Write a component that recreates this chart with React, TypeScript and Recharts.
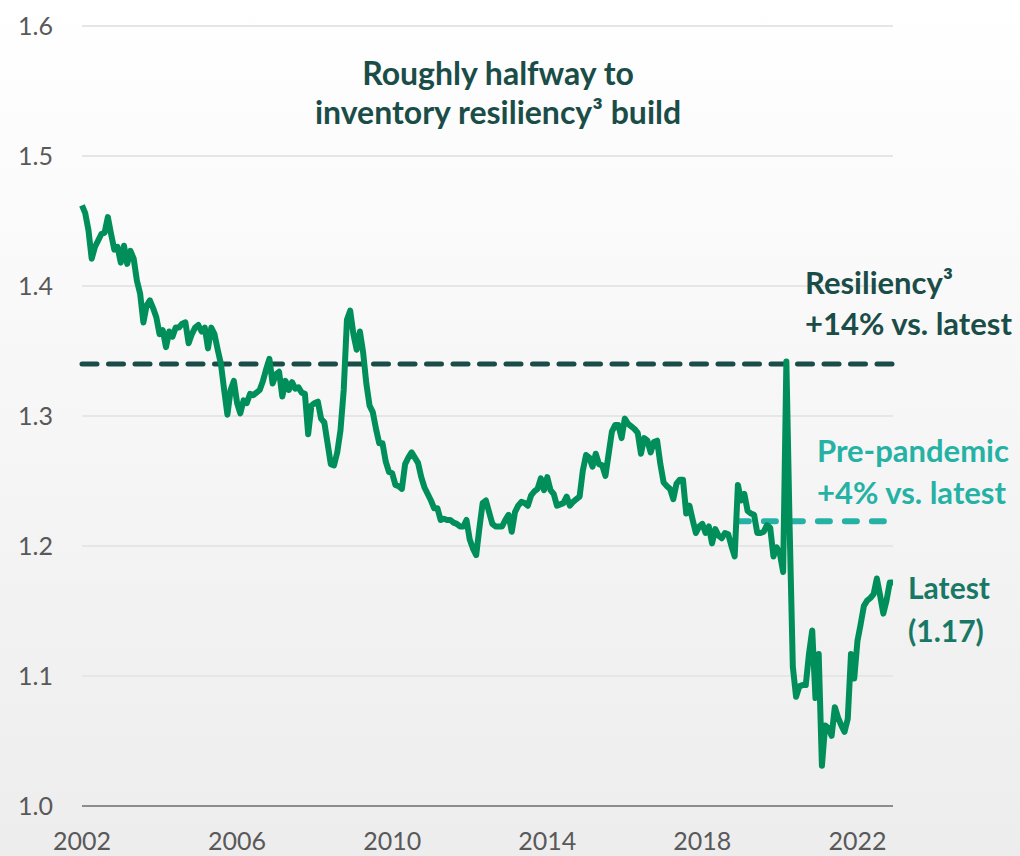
import { LineChart, Line, XAxis, YAxis, CartesianGrid, ReferenceLine } from "recharts";

// monthly inventory ratio, Jan 2002 .. Dec 2022
const START_YEAR = 2002;
const inventoryRatio = [
  1.462, 1.456, 1.443, 1.421, 1.43, 1.435, 1.44, 1.441, 1.453, 1.44, 1.428, 1.43,
  1.418, 1.431, 1.417, 1.427, 1.421, 1.404, 1.394, 1.372, 1.385, 1.389, 1.383, 1.376,
  1.363, 1.366, 1.353, 1.365, 1.361, 1.368, 1.368, 1.371, 1.372, 1.356, 1.363, 1.368,
  1.37, 1.365, 1.368, 1.352, 1.368, 1.363, 1.351, 1.34, 1.32, 1.301, 1.32, 1.327,
  1.31, 1.302, 1.312, 1.31, 1.317, 1.316, 1.318, 1.32, 1.327, 1.336, 1.344, 1.325,
  1.332, 1.334, 1.315, 1.327, 1.32, 1.326, 1.321, 1.322, 1.318, 1.317, 1.286, 1.308,
  1.31, 1.311, 1.298, 1.295, 1.279, 1.263, 1.262, 1.272, 1.289, 1.32, 1.374, 1.381,
  1.363, 1.351, 1.365, 1.349, 1.325, 1.308, 1.303, 1.29, 1.279, 1.279, 1.265, 1.257,
  1.256, 1.247, 1.246, 1.244, 1.263, 1.268, 1.272, 1.268, 1.264, 1.253, 1.245, 1.24,
  1.235, 1.229, 1.229, 1.22, 1.221, 1.22, 1.22, 1.218, 1.217, 1.215, 1.215, 1.22,
  1.205, 1.198, 1.193, 1.214, 1.233, 1.235, 1.226, 1.217, 1.215, 1.215, 1.215, 1.22,
  1.224, 1.211, 1.226, 1.231, 1.234, 1.233, 1.231, 1.239, 1.242, 1.244, 1.252, 1.243,
  1.253, 1.243, 1.24, 1.231, 1.232, 1.233, 1.238, 1.231, 1.234, 1.236, 1.238, 1.258,
  1.27, 1.268, 1.261, 1.271, 1.263, 1.262, 1.254, 1.271, 1.288, 1.293, 1.293, 1.283,
  1.298, 1.294, 1.292, 1.29, 1.287, 1.271, 1.283, 1.281, 1.272, 1.28, 1.281, 1.263,
  1.249, 1.246, 1.244, 1.236, 1.248, 1.251, 1.251, 1.225, 1.231, 1.22, 1.21, 1.215,
  1.217, 1.21, 1.215, 1.202, 1.213, 1.208, 1.206, 1.21, 1.209, 1.2, 1.192, 1.247,
  1.235, 1.24, 1.227, 1.225, 1.224, 1.21, 1.21, 1.211, 1.216, 1.214, 1.192, 1.199,
  1.194, 1.18, 1.342, 1.215, 1.107, 1.084, 1.092, 1.093, 1.093, 1.117, 1.135, 1.083,
  1.117, 1.031, 1.062, 1.06, 1.054, 1.076, 1.068, 1.062, 1.057, 1.067, 1.117, 1.098,
  1.127, 1.14, 1.154, 1.158, 1.16, 1.163, 1.175, 1.162, 1.148, 1.158, 1.172, 1.172,
];

const yearTicks = [2002, 2006, 2010, 2014, 2018, 2022];
const valueTicks = [1.0, 1.1, 1.2, 1.3, 1.4, 1.5, 1.6];

const resiliencyLevel = 1.34;
const prePandemicLevel = 1.219;
const prePandemicStart = 2018.89;
const prePandemicEnd = 2022.79;

const data = inventoryRatio.map((v, i) => ({ t: START_YEAR + i / 12, ratio: v }));
const lastT = START_YEAR + (inventoryRatio.length - 1) / 12;

const FONT = "Lato, 'Open Sans', sans-serif";
const DARK = "#1B4D48";
const TEAL = "#25B2A5";
const GREEN = "#008F5A";

const label = (text: string, left: number, cy: number, color: string, size = 31) => (
  <div
    style={{
      position: "absolute",
      left,
      top: cy - 20,
      height: 40,
      lineHeight: "40px",
      fontSize: size,
      fontWeight: 700,
      color,
      whiteSpace: "nowrap",
    }}
  >
    {text}
  </div>
);

export default function App() {
  return (
    <div
      style={{
        position: "absolute",
        left: 0,
        top: 0,
        width: 1020,
        height: 856,
        fontFamily: FONT,
        background: "linear-gradient(#ffffff, #ededed)",
      }}
    >
      <LineChart width={1020} height={856} data={data} margin={{ top: 26, right: 127, left: 0, bottom: 0 }}>
        <CartesianGrid vertical={false} stroke="#e6e6e6" strokeWidth={2} />
        <XAxis
          type="number"
          dataKey="t"
          domain={[START_YEAR, lastT]}
          ticks={yearTicks}
          height={50}
          axisLine={{ stroke: "#8c8c8c", strokeWidth: 2 }}
          tickLine={false}
          tickSize={0}
          tickMargin={26}
          tick={{ fill: "#595959", fontSize: 25, fontFamily: FONT }}
        />
        <YAxis
          domain={[1.0, 1.6]}
          ticks={valueTicks}
          width={82}
          axisLine={false}
          tickLine={false}
          tickSize={0}
          tickMargin={29}
          tickFormatter={(v: number) => v.toFixed(1)}
          tick={{ fill: "#595959", fontSize: 25, fontFamily: FONT }}
        />
        <ReferenceLine
          y={resiliencyLevel}
          stroke={DARK}
          strokeWidth={5}
          strokeDasharray="15 11.5"
          strokeLinecap="round"
        />
        <ReferenceLine
          segment={[
            { x: prePandemicStart, y: prePandemicLevel },
            { x: prePandemicEnd, y: prePandemicLevel },
          ]}
          stroke={TEAL}
          strokeWidth={6}
          strokeDasharray="12 15"
          strokeLinecap="round"
        />
        <Line
          type="linear"
          dataKey="ratio"
          stroke={GREEN}
          strokeWidth={6}
          strokeLinejoin="round"
          dot={false}
          isAnimationActive={false}
        />
      </LineChart>

      <div
        style={{
          position: "absolute",
          left: 198,
          width: 600,
          top: 53,
          textAlign: "center",
          fontSize: 32,
          fontWeight: 700,
          lineHeight: "39px",
          color: DARK,
        }}
      >
        Roughly halfway to
        <br />
        inventory resiliency³ build
      </div>

      {label("Resiliency³", 805, 282, DARK)}
      {label("+14% vs. latest", 805, 323, DARK)}
      {label("Pre-pandemic", 817, 450, TEAL)}
      {label("+4% vs. latest", 817, 492, TEAL)}
      {label("Latest", 908, 587, "#187866", 30)}
      {label("(1.17)", 908, 630, "#187866", 30)}
    </div>
  );
}
